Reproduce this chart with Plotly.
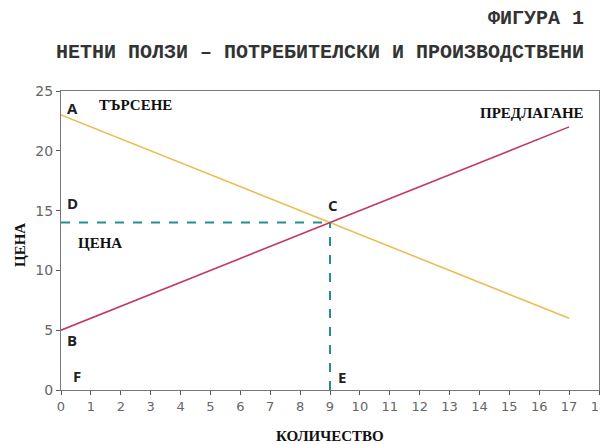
import plotly.graph_objects as go

# Data
quantity_demand = [0, 17]
price_demand = [23, 6]
quantity_supply = [0, 17]
price_supply = [5, 22]
eq_q = 9
eq_p = 14
x_ticks = list(range(0, 19))
y_ticks = [0, 5, 10, 15, 20, 25]

# The page places the figure 8px from the top-left corner of the window
OFF = 8
W, H = 608 - OFF, 444 - OFF
X0, X1 = 61, 599      # page pixels of the plot area's left/right
Y0, Y1 = 91, 390      # page pixels of the plot area's top/bottom
ML, MR, MT, MB = X0 - OFF, 608 - X1, Y0 - OFF, 444 - Y1
plot_w = X1 - X0
plot_h = Y1 - Y0


def px(xp):
    return (xp - X0) / plot_w


def py(yp):
    return (Y1 - yp) / plot_h


fig = go.Figure()
fig.add_trace(go.Scatter(x=quantity_demand, y=price_demand, mode="lines",
                         line=dict(color="#E9BE55", width=1.6), hoverinfo="skip"))
fig.add_trace(go.Scatter(x=quantity_supply, y=price_supply, mode="lines",
                         line=dict(color="#C23A62", width=1.6), hoverinfo="skip"))
fig.add_trace(go.Scatter(x=[0, eq_q], y=[eq_p, eq_p], mode="lines",
                         line=dict(color="#22918A", width=2, dash="dash"), hoverinfo="skip"))
fig.add_trace(go.Scatter(x=[eq_q, eq_q], y=[0, eq_p], mode="lines",
                         line=dict(color="#22918A", width=2, dash="dash"), hoverinfo="skip"))

letter_font = dict(family="Open Sans", size=15, color="#222222")
word_font = dict(family="Liberation Serif", size=15, color="#111111")

letters = [("A", 0.15, 23.6), ("D", 0.15, 15.6), ("B", 0.15, 4.2), ("F", 0.35, 1.2),
           ("C", 8.85, 15.5), ("E", 9.2, 1.1)]
for t, x, y in letters:
    fig.add_annotation(x=x, y=y, text="<b>%s</b>" % t, showarrow=False,
                       xanchor="left", yanchor="middle", font=letter_font)

words = [("ТЪРСЕНЕ", 1.2, 23.8, "left"), ("ПРЕДЛАГАНЕ", 17.55, 23.2, "right"),
         ("ЦЕНА", 0.5, 12.3, "left")]
for t, x, y, anc in words:
    fig.add_annotation(x=x, y=y, text="<b>%s</b>" % t, showarrow=False,
                       xanchor=anc, yanchor="middle", font=word_font)

title_font = dict(family="Liberation Mono", size=20, color="#333333")
fig.add_annotation(x=px(586), y=py(19), xref="paper", yref="paper", showarrow=False,
                   text="<b>ФИГУРА 1</b>", xanchor="right", yanchor="middle", font=title_font)
fig.add_annotation(x=px(586), y=py(52), xref="paper", yref="paper", showarrow=False,
                   text="<b>НЕТНИ ПОЛЗИ – ПОТРЕБИТЕЛСКИ И ПРОИЗВОДСТВЕНИ</b>",
                   xanchor="right", yanchor="middle", font=title_font)
fig.add_annotation(x=px(330), y=py(436), xref="paper", yref="paper", showarrow=False,
                   text="<b>КОЛИЧЕСТВО</b>", xanchor="center", yanchor="middle",
                   font=dict(family="Liberation Serif", size=15, color="#111"))
fig.add_annotation(x=px(20), y=py(245), xref="paper", yref="paper", showarrow=False,
                   text="<b>ЦЕНА</b>", xanchor="center", yanchor="middle", textangle=-90,
                   font=dict(family="Liberation Serif", size=15, color="#111"))

fig.update_layout(
    width=W, height=H,
    margin=dict(l=ML, r=MR, t=MT, b=MB, autoexpand=False),
    paper_bgcolor="white", plot_bgcolor="white",
    showlegend=False,
    xaxis=dict(range=[0, 18], tickvals=x_ticks, ticks="outside", ticklen=4,
               tickcolor="#555", showgrid=False, zeroline=False, automargin=False,
               showline=True, linecolor="#777", linewidth=1, mirror=True,
               tickfont=dict(family="DejaVu Sans", size=13, color="#666")),
    yaxis=dict(range=[0, 25], tickvals=y_ticks, ticks="outside", ticklen=4,
               tickcolor="#555", showgrid=False, zeroline=False, automargin=False,
               showline=True, linecolor="#777", linewidth=1, mirror=True,
               tickfont=dict(family="DejaVu Sans", size=14, color="#666")),
)

fig.write_html("out.html")
